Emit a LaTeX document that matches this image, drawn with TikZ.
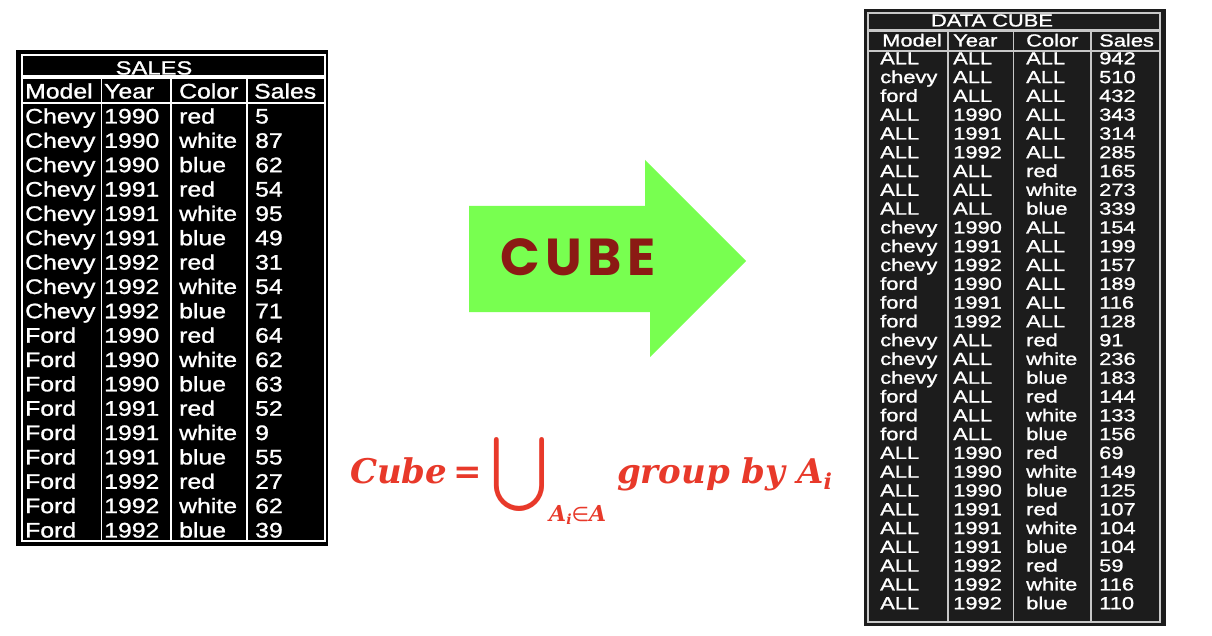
\documentclass[tikz,border=0pt]{standalone}
\usepackage{fontspec}
\usepackage{graphicx}
\newfontfamily\lfont[FakeStretch=1.18,FakeBold=1.2]{Liberation Sans}
\newfontfamily\rfont[FakeStretch=1.25,FakeBold=1.2]{Liberation Sans}
\newfontfamily\cubefont[LetterSpace=10]{Poppins}
\newfontfamily\eqfont{DejaVu Serif}
\newfontfamily\symfont{DejaVu Sans}
\definecolor{rbg}{HTML}{1C1C1C}
\definecolor{rgrid}{HTML}{C8C8C8}
\definecolor{eqred}{RGB}{232,57,42}
\definecolor{arrowgreen}{RGB}{120,255,80}
\definecolor{cubered}{RGB}{139,26,20}
\begin{document}
\begin{tikzpicture}[x=1pt,y=-1pt,
  lcell/.style={anchor=base west,inner sep=0pt,text=white,font=\lfont\fontsize{21}{21}\selectfont},
  rcell/.style={anchor=base west,inner sep=0pt,text=white,font=\rfont\fontsize{17.5}{17.5}\selectfont},
  lline/.style={draw=white,line width=1.5pt},
  rline/.style={draw=rgrid,line width=1.3pt},
  eq/.style={inner sep=0pt,text=eqred,font=\eqfont\bfseries\itshape\fontsize{34}{34}\selectfont}]
\useasboundingbox (0,0) rectangle (1212,636);
\fill[white] (0,0) rectangle (1212,636);

% ---------------- left table ----------------
\fill[black] (16,50) rectangle (328,546);
\draw[lline] (22,55) rectangle (325,76);
\draw[lline] (22,78) rectangle (325,541);
\draw[lline] (22,103) -- (325,103);
\foreach \xx in {101.5,171,247} \draw[lline] (\xx,78) -- (\xx,541);
\node[rcell,anchor=base,font=\rfont\fontsize{19}{19}\selectfont] (Lt) at (154,74.5) {SALES};
\node[lcell] (Lh-m) at (25,98.5) {Model};
\node[lcell] (Lh-y) at (104,98.5) {Year};
\node[lcell] (Lh-c) at (179,98.5) {Color};
\node[lcell] (Lh-s) at (254,98.5) {Sales};
\foreach \mo/\yr/\co/\sa [count=\i] in {Chevy/1990/red/5,Chevy/1990/white/87,Chevy/1990/blue/62,
  Chevy/1991/red/54,Chevy/1991/white/95,Chevy/1991/blue/49,Chevy/1992/red/31,Chevy/1992/white/54,
  Chevy/1992/blue/71,Ford/1990/red/64,Ford/1990/white/62,Ford/1990/blue/63,Ford/1991/red/52,
  Ford/1991/white/9,Ford/1991/blue/55,Ford/1992/red/27,Ford/1992/white/62,Ford/1992/blue/39}{
  \pgfmathsetmacro\yy{123.5+24.35*(\i-1)}
  \node[lcell] (L\i-m) at (25,\yy) {\mo};
  \node[lcell] (L\i-y) at (104,\yy) {\yr};
  \node[lcell] (L\i-c) at (179,\yy) {\co};
  \node[lcell] (L\i-s) at (255,\yy) {\sa};
}

% ---------------- arrow ----------------
\fill[arrowgreen] (469,206) -- (645,206) -- (645,160) -- (746,261) -- (650,357) -- (650,312) -- (469,312) -- cycle;
\node[inner sep=0pt,text=cubered,font=\cubefont\bfseries\fontsize{52}{52}\selectfont] (cube) at (578,257) {CUBE};

% ---------------- formula ----------------
\node[eq,anchor=base west] (cubeeq) at (350,483) {Cube\hspace{6pt}{\upshape =}};
\node[inner sep=0pt,text=eqred] (cup) at (519.5,474) {\resizebox*{58pt}{74pt}{$\bigcup$}};
\node[eq,anchor=base west,font=\eqfont\bfseries\itshape\fontsize{22}{22}\selectfont] (sub) at (549,521)
  {A\raisebox{-3pt}{\fontsize{14}{14}\selectfont i}{\symfont\mdseries\upshape\fontsize{20}{20}\selectfont ∈}A};
\node[eq,anchor=base west] (grp) at (617,483)
  {group by A\raisebox{-6pt}{\fontsize{22}{22}\selectfont i}};

% ---------------- right table ----------------
\fill[rbg] (864,9) rectangle (1166,626);
\draw[rline] (868,13) rectangle (1160,30);
\draw[rline] (868,31) rectangle (1160,622);
\draw[rline] (868,51) -- (1160,51);
\foreach \xx in {948,1013.5,1091} \draw[rline] (\xx,31) -- (\xx,622);
\node[rcell,anchor=base] (Rt) at (992,26.5) {DATA CUBE};
\node[rcell] (Rh-m) at (882,46.5) {Model};
\node[rcell] (Rh-y) at (953,46.5) {Year};
\node[rcell] (Rh-c) at (1026,46.5) {Color};
\node[rcell] (Rh-s) at (1099,46.5) {Sales};
\foreach \mo/\yr/\co/\sa [count=\i] in {ALL/ALL/ALL/942,chevy/ALL/ALL/510,ford/ALL/ALL/432,
  ALL/1990/ALL/343,ALL/1991/ALL/314,ALL/1992/ALL/285,ALL/ALL/red/165,ALL/ALL/white/273,
  ALL/ALL/blue/339,chevy/1990/ALL/154,chevy/1991/ALL/199,chevy/1992/ALL/157,ford/1990/ALL/189,
  ford/1991/ALL/116,ford/1992/ALL/128,chevy/ALL/red/91,chevy/ALL/white/236,chevy/ALL/blue/183,
  ford/ALL/red/144,ford/ALL/white/133,ford/ALL/blue/156,ALL/1990/red/69,ALL/1990/white/149,
  ALL/1990/blue/125,ALL/1991/red/107,ALL/1991/white/104,ALL/1991/blue/104,ALL/1992/red/59,
  ALL/1992/white/116,ALL/1992/blue/110}{
  \pgfmathsetmacro\yy{64.3+18.79*(\i-1)}
  \node[rcell] (R\i-m) at (880,\yy) {\mo};
  \node[rcell] (R\i-y) at (953,\yy) {\yr};
  \node[rcell] (R\i-c) at (1026,\yy) {\co};
  \node[rcell] (R\i-s) at (1099,\yy) {\sa};
}
\end{tikzpicture}
\end{document}
